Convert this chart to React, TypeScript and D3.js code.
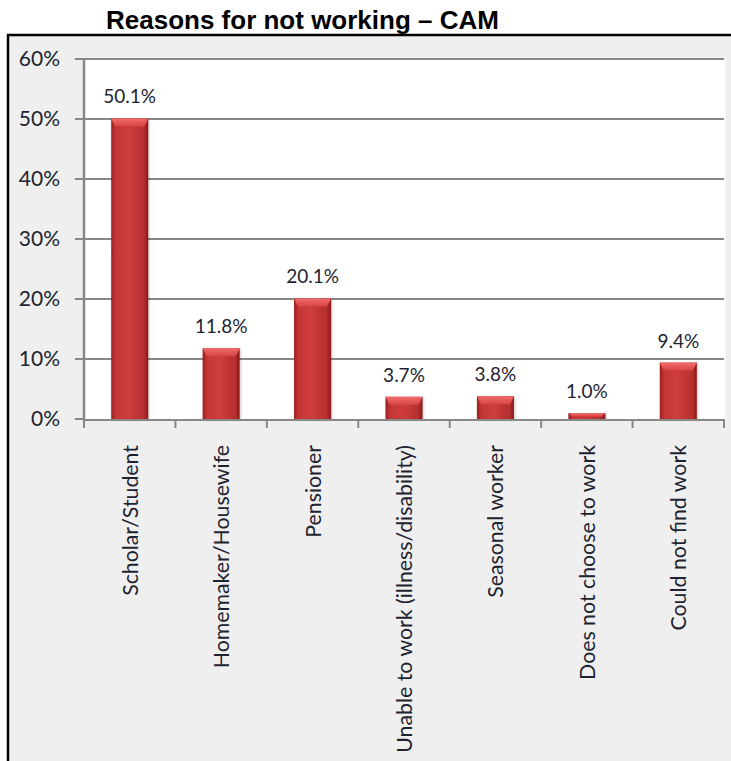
import React from "react";
import * as d3 from "d3";

const categories = [
  "Scholar/Student",
  "Homemaker/Housewife",
  "Pensioner",
  "Unable to work (illness/disability)",
  "Seasonal worker",
  "Does not choose to work",
  "Could not find work",
];
const values = [50.1, 11.8, 20.1, 3.7, 3.8, 1.0, 9.4];
const yTicks = [0, 10, 20, 30, 40, 50, 60];
const title = "Reasons for not working – CAM";

const W = 731;
const H = 761;
const plot = { left: 84, right: 724, top: 59, bottom: 419 };
const FONT = "Lato, 'Open Sans', sans-serif";

export default function App() {
  const x = d3
    .scaleBand<string>()
    .domain(categories)
    .range([plot.left, plot.right])
    .paddingInner(0.595)
    .paddingOuter(0.2975);
  const y = d3.scaleLinear().domain([0, 60]).range([plot.bottom, plot.top]);
  const step = x.step();
  const bw = x.bandwidth();

  return (
    <svg
      width={W}
      height={H}
      style={{ position: "absolute", left: 0, top: 0, background: "#fff" }}
    >
      <defs>
        <linearGradient id="barGrad" x1="0" x2="1" y1="0" y2="0">
          <stop offset="0%" stopColor="#9c1f1f" />
          <stop offset="12%" stopColor="#c33535" />
          <stop offset="45%" stopColor="#cf3d3d" />
          <stop offset="88%" stopColor="#b52f2f" />
          <stop offset="100%" stopColor="#8a1818" />
        </linearGradient>
        <linearGradient id="topGrad" x1="0" x2="0" y1="0" y2="1">
          <stop offset="0%" stopColor="#f26c6c" />
          <stop offset="100%" stopColor="#d84444" />
        </linearGradient>
        <filter id="shadow" x="-20%" y="-20%" width="140%" height="140%">
          <feDropShadow dx="1" dy="1" stdDeviation="1.2" floodColor="#000" floodOpacity="0.25" />
        </filter>
      </defs>

      {/* Title */}
      <text
        x={106}
        y={29}
        fontFamily="'Liberation Sans', Arial, sans-serif"
        fontWeight="bold"
        fontSize={26}
        fill="#000"
      >
        {title}
      </text>

      {/* chart area background */}
      <rect x={8} y={35} width={W - 8} height={H - 35} fill="#efefef" />
      <line x1={7} x2={W} y1={35} y2={35} stroke="#000" strokeWidth={2.5} />
      <line x1={8} x2={8} y1={34} y2={H} stroke="#000" strokeWidth={2.5} />

      {/* plot area */}
      <rect
        x={plot.left}
        y={plot.top}
        width={plot.right - plot.left + 1}
        height={plot.bottom - plot.top}
        fill="#fff"
      />

      {/* gridlines, y ticks and labels */}
      {yTicks.map((t) => (
        <g key={t}>
          {t > 0 && (
            <line
              x1={plot.left}
              x2={plot.right}
              y1={y(t)}
              y2={y(t)}
              stroke="#888"
              strokeWidth={2}
            />
          )}
          <line
            x1={plot.left - 9}
            x2={plot.left}
            y1={y(t)}
            y2={y(t)}
            stroke="#888"
            strokeWidth={2}
          />
          <text
            x={60}
            y={y(t)}
            dy="0.35em"
            textAnchor="end"
            fontFamily={FONT}
            fontSize={21}
            fill="#1e2330"
          >
            {t}%
          </text>
        </g>
      ))}

      {/* bars */}
      {categories.map((c, i) => {
        const bx = x(c)!;
        const by = y(values[i]);
        const bh = plot.bottom - by;
        const cap = Math.min(8, bh * 0.6);
        return (
          <g key={c}>
            <rect
              x={bx}
              y={by}
              width={bw}
              height={bh}
              fill="url(#barGrad)"
              filter="url(#shadow)"
            />
            <path
              d={`M${bx},${by} L${bx + bw},${by} L${bx + bw - 4},${by + cap} L${bx + 4},${by + cap} Z`}
              fill="url(#topGrad)"
            />
            <text
              x={bx + bw / 2}
              y={by - 15}
              textAnchor="middle"
              fontFamily={FONT}
              fontSize={19}
              fill="#1e2330"
            >
              {values[i].toFixed(1)}%
            </text>
          </g>
        );
      })}

      {/* axes */}
      <line
        x1={plot.left}
        x2={plot.left}
        y1={plot.top}
        y2={plot.bottom}
        stroke="#888"
        strokeWidth={2.5}
      />
      <line
        x1={plot.left}
        x2={plot.right}
        y1={plot.bottom + 1}
        y2={plot.bottom + 1}
        stroke="#888"
        strokeWidth={2}
      />
      {d3.range(categories.length + 1).map((k) => {
        const tx = plot.left + k * step;
        return (
          <line
            key={k}
            x1={tx}
            x2={tx}
            y1={plot.bottom}
            y2={plot.bottom + 9}
            stroke="#888"
            strokeWidth={2}
          />
        );
      })}

      {/* category labels */}
      {categories.map((c) => {
        const cx = x(c)! + bw / 2;
        return (
          <text
            key={c}
            transform={`translate(${cx + 8},445) rotate(-90)`}
            textAnchor="end"
            fontFamily={FONT}
            fontSize={21.3}
            fill="#1e2330"
          >
            {c}
          </text>
        );
      })}
    </svg>
  );
}
